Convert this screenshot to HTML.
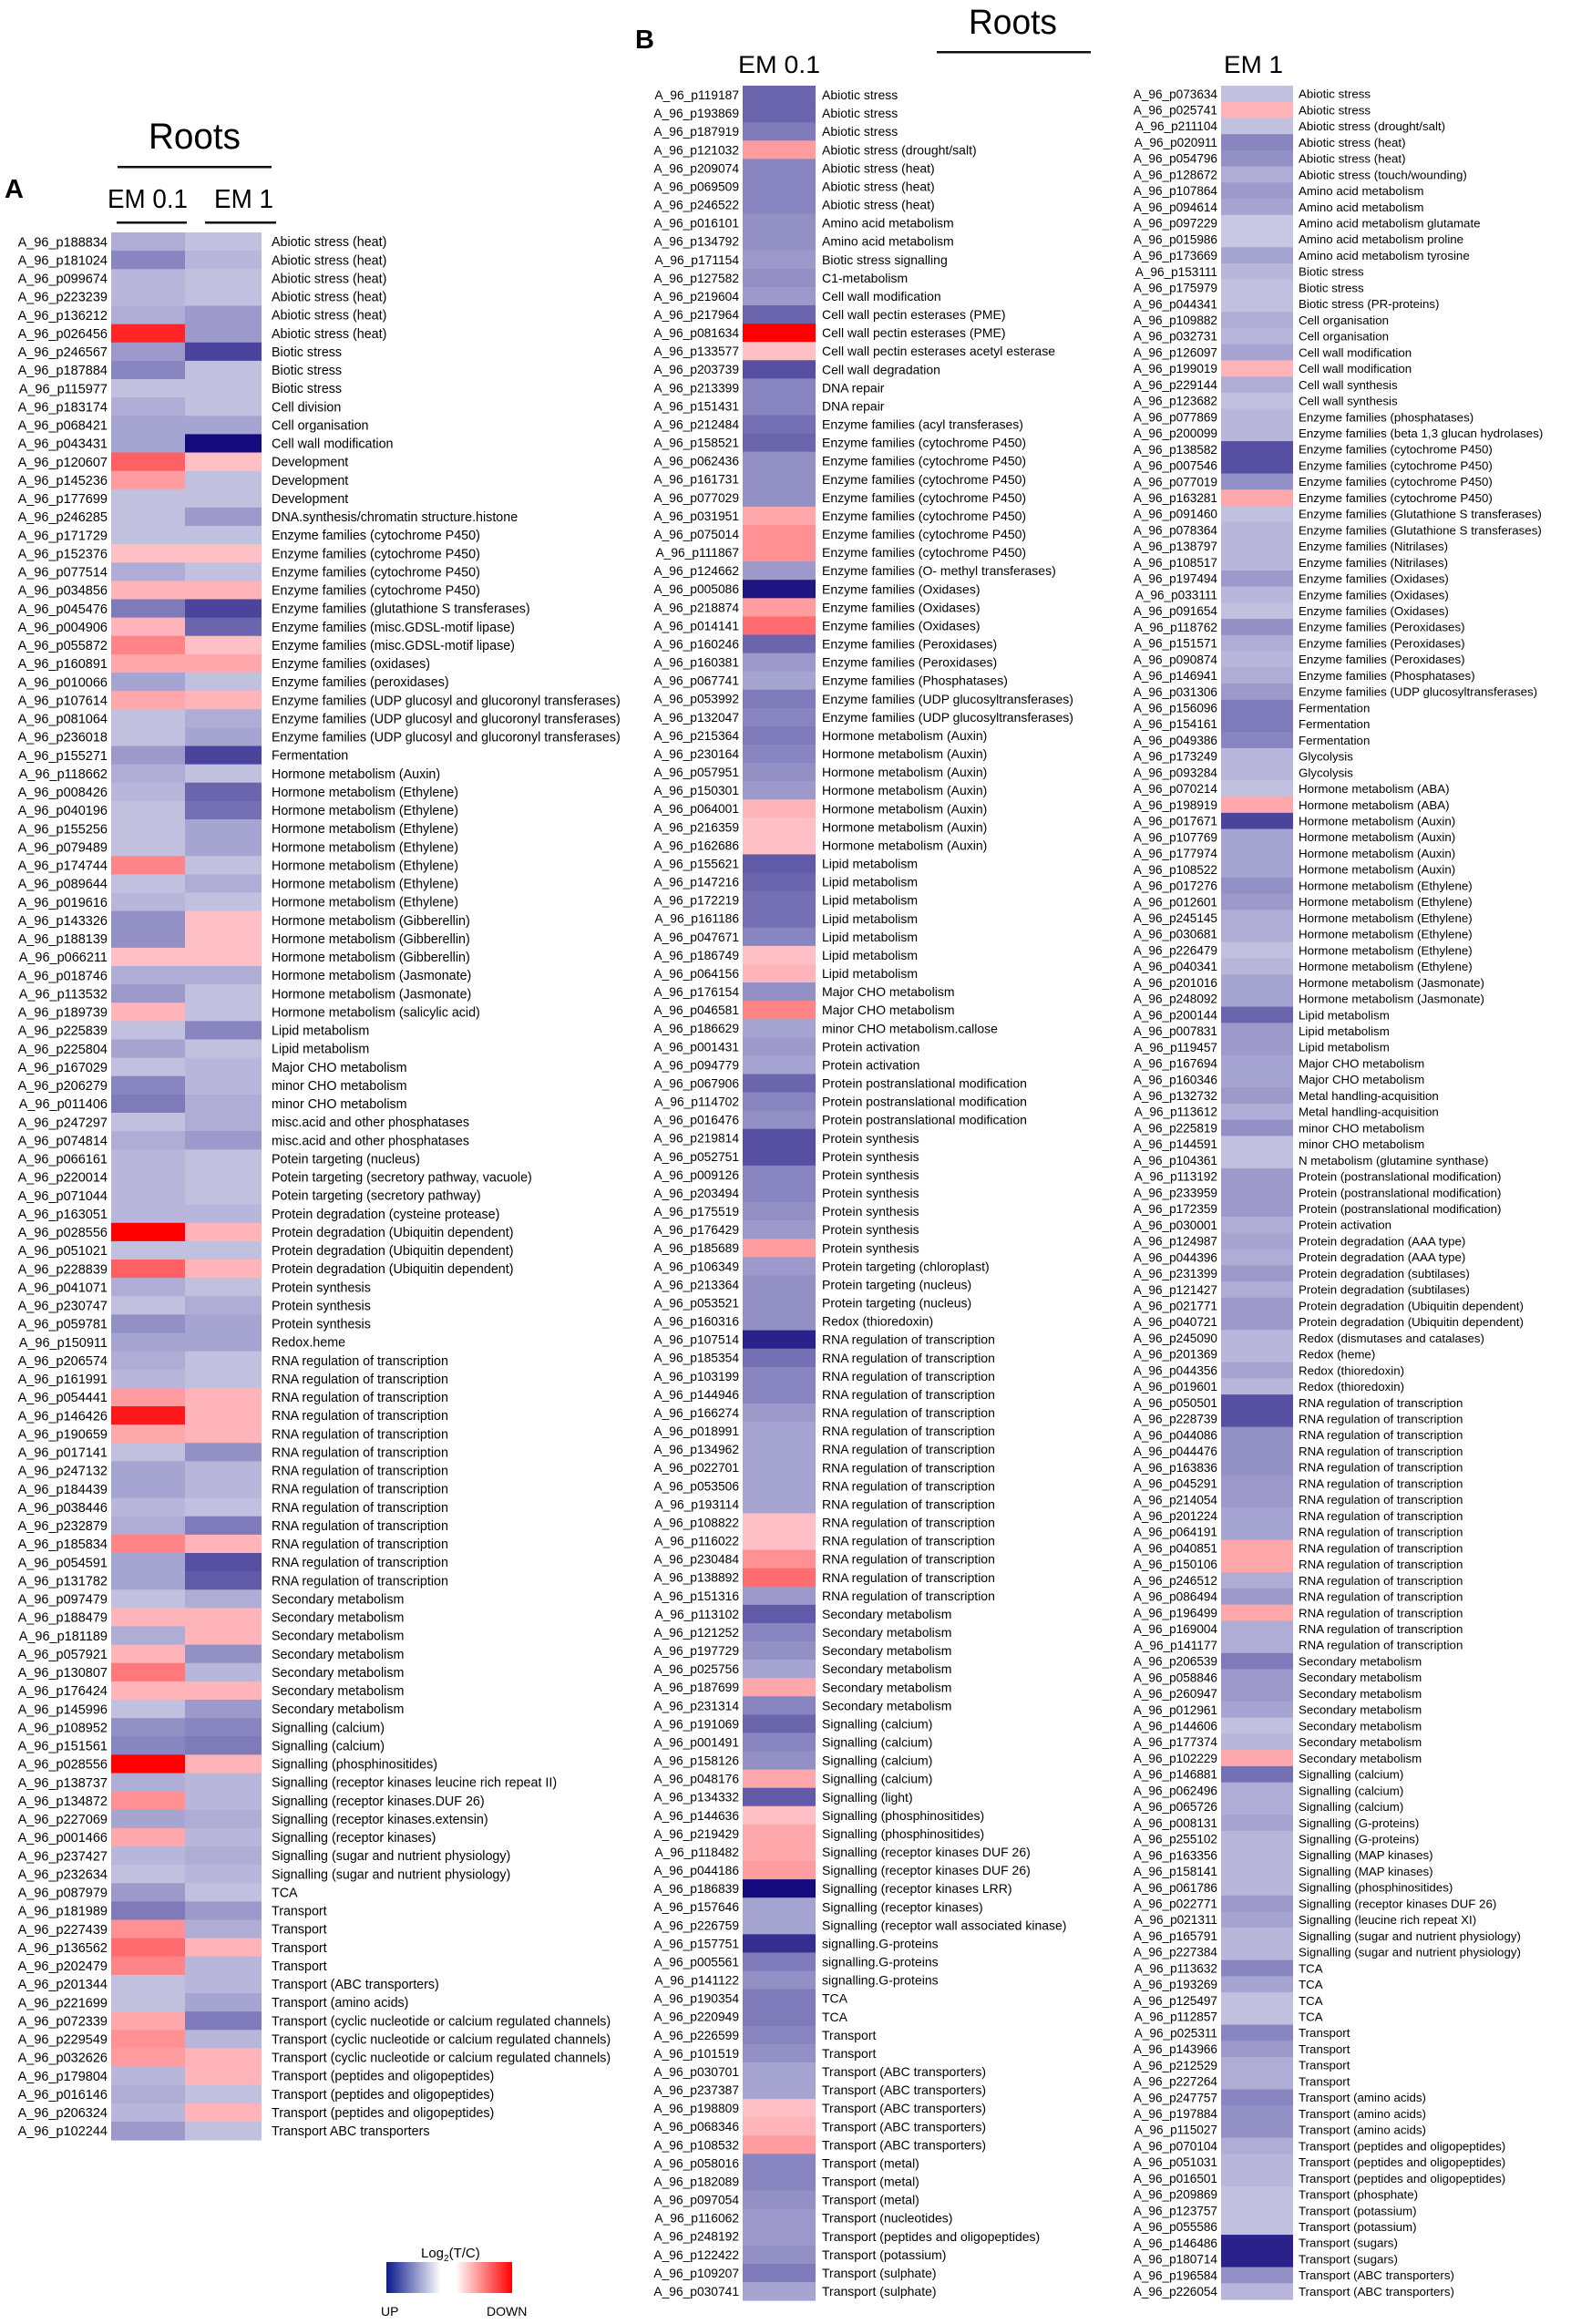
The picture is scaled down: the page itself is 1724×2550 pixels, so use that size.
<!DOCTYPE html>
<html><head><meta charset="utf-8"><title>Roots heatmaps</title>
<style>
html,body{margin:0;padding:0;background:#fff;}
svg{display:block;font-family:"Liberation Sans",sans-serif;}
</style></head>
<body>
<svg id="fig" width="1724" height="2550" viewBox="0 0 1724 2550" xmlns="http://www.w3.org/2000/svg">
<defs>
<linearGradient id="gBlue" x1="0" x2="1" y1="0" y2="0"><stop offset="0" stop-color="#0a1a8c"/><stop offset="1" stop-color="#ffffff"/></linearGradient>
<linearGradient id="gRed" x1="0" x2="1" y1="0" y2="0"><stop offset="0" stop-color="#ffffff"/><stop offset="1" stop-color="#ff0000"/></linearGradient>
</defs>
<g>
<text x="5" y="217" font-size="29" font-weight="bold">A</text>
<text x="163" y="163" font-size="40" textLength="101" lengthAdjust="spacingAndGlyphs">Roots</text>
<rect x="129" y="182" width="169" height="2.5" fill="#111"/>
<text x="118" y="228" font-size="29" textLength="88" lengthAdjust="spacingAndGlyphs">EM 0.1</text>
<text x="235" y="228" font-size="29" textLength="65" lengthAdjust="spacingAndGlyphs">EM 1</text>
<rect x="128" y="243" width="77" height="2.5" fill="#111"/>
<rect x="225" y="243" width="78" height="2.5" fill="#111"/>
</g>
<g>
<text x="697" y="53" font-size="29" font-weight="bold">B</text>
<text x="1063" y="37" font-size="38" textLength="97" lengthAdjust="spacingAndGlyphs">Roots</text>
<rect x="1028" y="56" width="169" height="2.5" fill="#111"/>
<text x="810" y="80" font-size="27" textLength="90" lengthAdjust="spacingAndGlyphs">EM 0.1</text>
<text x="1343" y="80" font-size="27" textLength="65" lengthAdjust="spacingAndGlyphs">EM 1</text>
</g>
<g>
<text x="462" y="2477" font-size="15">Log<tspan font-size="10" dy="4">2</tspan><tspan dy="-4">(T/C)</tspan></text>
<rect x="424" y="2482" width="60" height="34" fill="url(#gBlue)"/>
<rect x="500" y="2482" width="62" height="34" fill="url(#gRed)"/>
<text x="418" y="2541" font-size="14">UP</text>
<text x="534" y="2541" font-size="14">DOWN</text>
</g>
<g id="heatA"></g>
<g id="heatBL"></g>
<g id="heatBR"></g>
</svg>
<script>
// ---------- Panel A data ----------
var idsA = ["188834","181024","099674","223239","136212","026456","246567","187884","115977","183174","068421","043431","120607","145236","177699","246285","171729","152376","077514","034856","045476","004906","055872","160891","010066","107614","081064","236018","155271","118662","008426","040196","155256","079489","174744","089644","019616","143326","188139","066211","018746","113532","189739","225839","225804","167029","206279","011406","247297","074814","066161","220014","071044","163051","028556","051021","228839","041071","230747","059781","150911","206574","161991","054441","146426","190659","017141","247132","184439","038446","232879","185834","054591","131782","097479","188479","181189","057921","130807","176424","145996","108952","151561","028556","138737","134872","227069","001466","237427","232634","087979","181989","227439","136562","202479","201344","221699","072339","229549","032626","179804","016146","206324","102244"];
var catRunsA = [["Abiotic stress (heat)",6],["Biotic stress",3],["Cell division",1],["Cell organisation",1],["Cell wall modification",1],["Development",3],["DNA.synthesis/chromatin structure.histone",1],["Enzyme families (cytochrome P450)",4],["Enzyme families (glutathione S transferases)",1],["Enzyme families (misc.GDSL-motif lipase)",2],["Enzyme families (oxidases)",1],["Enzyme families (peroxidases)",1],["Enzyme families (UDP glucosyl and glucoronyl transferases)",3],["Fermentation",1],["Hormone metabolism (Auxin)",1],["Hormone metabolism (Ethylene)",7],["Hormone metabolism (Gibberellin)",3],["Hormone metabolism (Jasmonate)",2],["Hormone metabolism (salicylic acid)",1],["Lipid metabolism",2],["Major CHO metabolism",1],["minor CHO metabolism",2],["misc.acid and other phosphatases",2],["Potein targeting (nucleus)",1],["Potein targeting (secretory pathway, vacuole)",1],["Potein targeting (secretory pathway)",1],["Protein degradation (cysteine protease)",1],["Protein degradation (Ubiquitin dependent)",3],["Protein synthesis",3],["Redox.heme",1],["RNA regulation of transcription",13],["Secondary metabolism",7],["Signalling (calcium)",2],["Signalling (phosphinositides)",1],["Signalling (receptor kinases leucine rich repeat II)",1],["Signalling (receptor kinases.DUF 26)",1],["Signalling (receptor kinases.extensin)",1],["Signalling (receptor kinases)",1],["Signalling (sugar and nutrient physiology)",2],["TCA",1],["Transport",4],["Transport (ABC transporters)",1],["Transport (amino acids)",1],["Transport (cyclic nucleotide or calcium regulated channels)",3],["Transport (peptides and oligopeptides)",3],["Transport ABC transporters",1]];
var em01A = [-0.25,-0.45,-0.2,-0.2,-0.25,0.85,-0.35,-0.45,-0.15,-0.25,-0.3,-0.3,0.6,0.35,-0.15,-0.15,-0.15,0.2,-0.25,0.25,-0.5,0.25,0.45,0.3,-0.3,0.3,-0.15,-0.15,-0.35,-0.25,-0.2,-0.15,-0.15,-0.15,0.45,-0.15,-0.2,-0.4,-0.4,0.2,-0.25,-0.35,0.25,-0.15,-0.3,-0.15,-0.45,-0.5,-0.15,-0.25,-0.2,-0.2,-0.2,-0.2,1.0,-0.15,0.6,-0.25,-0.15,-0.4,-0.3,-0.25,-0.2,0.35,0.9,0.3,-0.15,-0.3,-0.3,-0.2,-0.25,0.45,-0.3,-0.3,-0.15,0.25,-0.25,0.25,0.5,0.25,-0.15,-0.4,-0.45,1.0,-0.25,0.4,-0.3,0.3,-0.2,-0.15,-0.35,-0.5,0.4,0.55,0.45,-0.15,-0.15,0.3,0.4,0.35,-0.2,-0.25,-0.2,-0.35];
var em1A = [-0.15,-0.2,-0.15,-0.15,-0.35,-0.35,-0.75,-0.15,-0.15,-0.15,-0.3,-1.0,0.2,-0.15,-0.15,-0.35,-0.15,0.2,-0.15,0.25,-0.75,-0.6,0.2,0.3,-0.15,0.25,-0.25,-0.3,-0.75,-0.15,-0.6,-0.55,-0.3,-0.3,-0.15,-0.25,-0.15,0.2,0.2,0.2,-0.25,-0.15,-0.15,-0.45,-0.15,-0.2,-0.2,-0.25,-0.25,-0.35,-0.15,-0.15,-0.15,-0.2,0.25,-0.15,0.25,-0.15,-0.25,-0.3,-0.3,-0.15,-0.15,0.25,0.25,0.25,-0.4,-0.2,-0.2,-0.15,-0.5,0.25,-0.7,-0.65,-0.25,0.25,0.25,-0.4,-0.2,0.25,-0.35,-0.45,-0.5,0.25,-0.2,-0.2,-0.25,-0.2,-0.25,-0.2,-0.15,-0.35,-0.25,0.25,-0.2,-0.2,-0.3,-0.5,-0.2,0.25,0.25,-0.15,0.25,-0.15];

// ---------- Panel B (EM 0.1) data ----------
var idsBL = ["119187","193869","187919","121032","209074","069509","246522","016101","134792","171154","127582","219604","217964","081634","133577","203739","213399","151431","212484","158521","062436","161731","077029","031951","075014","111867","124662","005086","218874","014141","160246","160381","067741","053992","132047","215364","230164","057951","150301","064001","216359","162686","155621","147216","172219","161186","047671","186749","064156","176154","046581","186629","001431","094779","067906","114702","016476","219814","052751","009126","203494","175519","176429","185689","106349","213364","053521","160316","107514","185354","103199","144946","166274","018991","134962","022701","053506","193114","108822","116022","230484","138892","151316","113102","121252","197729","025756","187699","231314","191069","001491","158126","048176","134332","144636","219429","118482","044186","186839","157646","226759","157751","005561","141122","190354","220949","226599","101519","030701","237387","198809","068346","108532","058016","182089","097054","116062","248192","122422","109207","030741"];
var catRunsBL = [["Abiotic stress",3],["Abiotic stress (drought/salt)",1],["Abiotic stress (heat)",3],["Amino acid metabolism",2],["Biotic stress signalling",1],["C1-metabolism",1],["Cell wall modification",1],["Cell wall pectin esterases (PME)",2],["Cell wall pectin esterases acetyl esterase",1],["Cell wall degradation",1],["DNA repair",2],["Enzyme families (acyl transferases)",1],["Enzyme families (cytochrome P450)",7],["Enzyme families (O- methyl transferases)",1],["Enzyme families (Oxidases)",3],["Enzyme families (Peroxidases)",2],["Enzyme families (Phosphatases)",1],["Enzyme families (UDP glucosyltransferases)",2],["Hormone metabolism (Auxin)",7],["Lipid metabolism",7],["Major CHO metabolism",2],["minor CHO metabolism.callose",1],["Protein activation",2],["Protein postranslational modification",3],["Protein synthesis",7],["Protein targeting (chloroplast)",1],["Protein targeting (nucleus)",2],["Redox (thioredoxin)",1],["RNA regulation of transcription",15],["Secondary metabolism",6],["Signalling (calcium)",4],["Signalling (light)",1],["Signalling (phosphinositides)",2],["Signalling (receptor kinases DUF 26)",2],["Signalling (receptor kinases LRR)",1],["Signalling (receptor kinases)",1],["Signalling (receptor wall associated kinase)",1],["signalling.G-proteins",3],["TCA",2],["Transport",2],["Transport (ABC transporters)",5],["Transport (metal)",3],["Transport (nucleotides)",1],["Transport (peptides and oligopeptides)",1],["Transport (potassium)",1],["Transport (sulphate)",2]];
var valsBL = [-0.6,-0.6,-0.5,0.35,-0.45,-0.45,-0.45,-0.4,-0.4,-0.35,-0.4,-0.35,-0.6,1.0,0.2,-0.7,-0.45,-0.45,-0.55,-0.6,-0.4,-0.4,-0.4,0.3,0.4,0.4,-0.35,-0.95,0.35,0.55,-0.6,-0.35,-0.3,-0.5,-0.45,-0.5,-0.45,-0.4,-0.35,0.25,0.2,0.2,-0.65,-0.6,-0.55,-0.55,-0.45,0.2,0.25,-0.4,0.45,-0.3,-0.35,-0.3,-0.6,-0.45,-0.4,-0.7,-0.7,-0.45,-0.45,-0.4,-0.35,0.35,-0.35,-0.4,-0.4,-0.4,-0.9,-0.55,-0.45,-0.45,-0.35,-0.3,-0.3,-0.3,-0.3,-0.3,0.2,0.2,0.4,0.55,-0.35,-0.65,-0.45,-0.4,-0.3,0.3,-0.45,-0.6,-0.45,-0.4,0.3,-0.65,0.2,0.3,0.3,0.35,-1.0,-0.3,-0.3,-0.85,-0.5,-0.4,-0.5,-0.5,-0.45,-0.4,-0.3,-0.3,0.2,0.25,0.35,-0.45,-0.45,-0.4,-0.35,-0.35,-0.4,-0.5,-0.3];

// ---------- Panel B (EM 1) data ----------
var idsBR = ["073634","025741","211104","020911","054796","128672","107864","094614","097229","015986","173669","153111","175979","044341","109882","032731","126097","199019","229144","123682","077869","200099","138582","007546","077019","163281","091460","078364","138797","108517","197494","033111","091654","118762","151571","090874","146941","031306","156096","154161","049386","173249","093284","070214","198919","017671","107769","177974","108522","017276","012601","245145","030681","226479","040341","201016","248092","200144","007831","119457","167694","160346","132732","113612","225819","144591","104361","113192","233959","172359","030001","124987","044396","231399","121427","021771","040721","245090","201369","044356","019601","050501","228739","044086","044476","163836","045291","214054","201224","064191","040851","150106","246512","086494","196499","169004","141177","206539","058846","260947","012961","144606","177374","102229","146881","062496","065726","008131","255102","163356","158141","061786","022771","021311","165791","227384","113632","193269","125497","112857","025311","143966","212529","227264","247757","197884","115027","070104","051031","016501","209869","123757","055586","146486","180714","196584","226054"];
var catRunsBR = [["Abiotic stress",2],["Abiotic stress (drought/salt)",1],["Abiotic stress (heat)",2],["Abiotic stress (touch/wounding)",1],["Amino acid metabolism",2],["Amino acid metabolism glutamate",1],["Amino acid metabolism proline",1],["Amino acid metabolism tyrosine",1],["Biotic stress",2],["Biotic stress (PR-proteins)",1],["Cell organisation",2],["Cell wall modification",2],["Cell wall synthesis",2],["Enzyme families (phosphatases)",1],["Enzyme families (beta 1,3 glucan hydrolases)",1],["Enzyme families (cytochrome P450)",4],["Enzyme families (Glutathione S transferases)",2],["Enzyme families (Nitrilases)",2],["Enzyme families (Oxidases)",3],["Enzyme families (Peroxidases)",3],["Enzyme families (Phosphatases)",1],["Enzyme families (UDP glucosyltransferases)",1],["Fermentation",3],["Glycolysis",2],["Hormone metabolism (ABA)",2],["Hormone metabolism (Auxin)",4],["Hormone metabolism (Ethylene)",6],["Hormone metabolism (Jasmonate)",2],["Lipid metabolism",3],["Major CHO metabolism",2],["Metal handling-acquisition",2],["minor CHO metabolism",2],["N metabolism (glutamine synthase)",1],["Protein (postranslational modification)",3],["Protein activation",1],["Protein degradation (AAA type)",2],["Protein degradation (subtilases)",2],["Protein degradation (Ubiquitin dependent)",2],["Redox (dismutases and catalases)",1],["Redox (heme)",1],["Redox (thioredoxin)",2],["RNA regulation of transcription",16],["Secondary metabolism",7],["Signalling (calcium)",3],["Signalling (G-proteins)",2],["Signalling (MAP kinases)",2],["Signalling (phosphinositides)",1],["Signalling (receptor kinases DUF 26)",1],["Signalling (leucine rich repeat XI)",1],["Signalling (sugar and nutrient physiology)",2],["TCA",4],["Transport",4],["Transport (amino acids)",3],["Transport (peptides and oligopeptides)",3],["Transport (phosphate)",1],["Transport (potassium)",2],["Transport (sugars)",2],["Transport (ABC transporters)",2]];
var valsBR = [-0.15,0.25,-0.15,-0.45,-0.4,-0.25,-0.35,-0.3,-0.1,-0.1,-0.3,-0.2,-0.15,-0.15,-0.25,-0.2,-0.3,0.25,-0.25,-0.15,-0.2,-0.2,-0.7,-0.7,-0.4,0.3,-0.15,-0.2,-0.2,-0.2,-0.35,-0.2,-0.15,-0.4,-0.25,-0.2,-0.25,-0.35,-0.5,-0.5,-0.45,-0.2,-0.2,-0.15,0.3,-0.75,-0.3,-0.3,-0.3,-0.4,-0.35,-0.25,-0.25,-0.15,-0.2,-0.3,-0.3,-0.6,-0.35,-0.35,-0.3,-0.3,-0.35,-0.25,-0.4,-0.15,-0.15,-0.35,-0.35,-0.35,-0.25,-0.3,-0.25,-0.35,-0.25,-0.35,-0.35,-0.2,-0.2,-0.3,-0.2,-0.7,-0.7,-0.4,-0.4,-0.4,-0.35,-0.35,-0.3,-0.3,0.3,0.3,-0.25,-0.35,0.3,-0.25,-0.25,-0.5,-0.35,-0.35,-0.3,-0.15,-0.2,0.3,-0.55,-0.25,-0.25,-0.3,-0.2,-0.2,-0.2,-0.2,-0.35,-0.3,-0.2,-0.2,-0.45,-0.3,-0.15,-0.15,-0.45,-0.35,-0.25,-0.25,-0.45,-0.4,-0.4,-0.25,-0.2,-0.2,-0.15,-0.15,-0.15,-0.9,-0.9,-0.4,-0.2];

var SVGNS = "http://www.w3.org/2000/svg";
function expandRuns(runs){ var out=[]; runs.forEach(function(r){ for(var i=0;i<r[1];i++) out.push(r[0]); }); return out; }
function lerp(a,b,t){ return Math.round(a+(b-a)*t); }
function colorOf(v){
  if (v < 0) {
    var t = Math.pow(Math.min(1, -v), 1.15);
    return "rgb("+lerp(215,20,t)+","+lerp(215,10,t)+","+lerp(236,125,t)+")";
  }
  var u = Math.max(0, Math.min(1, (v-0.2)/0.8));
  return "rgb(255,"+lerp(192,0,u)+","+lerp(197,0,u)+")";
}
function rowY(top, pitch, i){ return top + pitch*i; }

function drawPanel(g, cfg){
  var cats = expandRuns(cfg.catRuns);
  var n = cfg.ids.length;
  for (var i=0;i<n;i++){
    var y = rowY(cfg.top, cfg.pitch, i);
    for (var c=0;c<cfg.cols.length;c++){
      var col = cfg.cols[c];
      var r = document.createElementNS(SVGNS,"rect");
      r.setAttribute("x", col.x0);
      r.setAttribute("y", y);
      r.setAttribute("width", col.x1-col.x0);
      r.setAttribute("height", cfg.pitch+0.6);
      r.setAttribute("fill", colorOf(col.vals[i]));
      
      
      g.appendChild(r);
    }
    var t = document.createElementNS(SVGNS,"text");
    t.setAttribute("x", cfg.idX);
    t.setAttribute("y", y + cfg.pitch/2 + cfg.idFs*0.36);
    t.setAttribute("font-size", cfg.idFs);
    t.setAttribute("text-anchor","end");
    t.textContent = "A_96_p"+cfg.ids[i];
    
    
    g.appendChild(t);
    var ct = document.createElementNS(SVGNS,"text");
    ct.setAttribute("x", cfg.catX);
    ct.setAttribute("y", y + cfg.pitch/2 + cfg.catFs*0.36);
    ct.setAttribute("font-size", cfg.catFs);
    ct.textContent = cats[i] || "";
    
    
    g.appendChild(ct);
  }
}

drawPanel(document.getElementById("heatA"), {
  ids: idsA, catRuns: catRunsA, top: 255, pitch: (2348-255)/idsA.length,
  cols: [{x0:122,x1:203,vals:em01A},{x0:203,x1:287,vals:em1A}],
  idX: 118, idFs: 14.5, catX: 298, catFs: 14.3
});
drawPanel(document.getElementById("heatBL"), {
  ids: idsBL, catRuns: catRunsBL, top: 94, pitch: (2524-94)/idsBL.length,
  cols: [{x0:815,x1:895,vals:valsBL}],
  idX: 811, idFs: 13.8, catX: 902, catFs: 14
});
drawPanel(document.getElementById("heatBR"), {
  ids: idsBR, catRuns: catRunsBR, top: 94, pitch: (2523-94)/idsBR.length,
  cols: [{x0:1340,x1:1419,vals:valsBR}],
  idX: 1336, idFs: 13.6, catX: 1425, catFs: 13.3
});
</script>
</body></html>
